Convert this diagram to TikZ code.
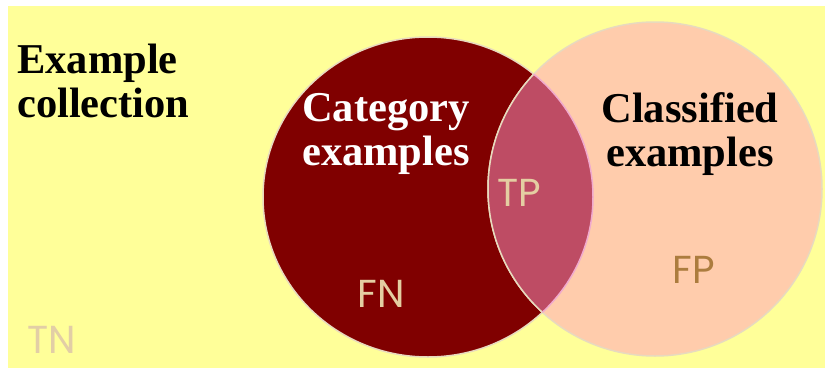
\documentclass[tikz,border=0pt]{standalone}
\usepackage{fontspec}
\setmainfont{Liberation Serif}
\newfontfamily\labelfont{Poppins}
\definecolor{bgyellow}{RGB}{255,255,153}
\definecolor{catred}{RGB}{128,0,0}
\definecolor{clspink}{RGB}{255,204,172}
\definecolor{overlap}{RGB}{190,76,100}
\definecolor{rim}{RGB}{232,218,190}
\definecolor{rimpink}{RGB}{240,170,205}
\definecolor{beige}{RGB}{228,206,162}
\definecolor{tnbeige}{RGB}{226,206,166}
\definecolor{fpbrown}{RGB}{172,124,62}
\tikzset{
  title/.style={font=\fontsize{42.5}{44}\selectfont\bfseries, align=center},
  mark label/.style={font=\labelfont\fontsize{39}{39}\selectfont},
}
\begin{document}
\begin{tikzpicture}[x=1pt,y=-1pt]
  \useasboundingbox (0,0) rectangle (825,372);
  % collection background
  \fill[bgyellow] (8,6) rectangle (825,368);
  % the two sets
  \filldraw[fill=catred, draw=rim, line width=1.5pt] (428,197) ellipse [x radius=165, y radius=160];
  \filldraw[fill=clspink, draw=rim, line width=1.5pt] (655,189) circle [radius=167];
  % overlap of the two sets
  \begin{scope}
    \clip (428,197) ellipse [x radius=165, y radius=160];
    \fill[overlap] (655,189) circle [radius=167];
    \draw[rim, line width=1.5pt] (655,189) circle [radius=167];
  \end{scope}
  \begin{scope}
    \clip (655,189) circle [radius=167];
    \draw[rimpink, line width=1.5pt] (428,197) ellipse [x radius=165, y radius=160];
  \end{scope}
  % headings
  \node[title, anchor=north west, align=left, inner sep=0pt] (coll) at (17,44) {Example\\collection};
  \node[title, text=white, inner sep=0pt] (cat) at (386,134) {Category\\examples};
  \node[title, text=black, inner sep=0pt] (cls) at (690,134) {Classified\\examples};
  % confusion-matrix cells
  \node[mark label, text=beige] (tp) at (519,193) {TP};
  \node[mark label, text=beige] (fn) at (381,294) {FN};
  \node[mark label, text=fpbrown] (fp) at (694,270) {FP};
  \node[mark label, text=tnbeige] (tn) at (52,340) {TN};
\end{tikzpicture}
\end{document}
